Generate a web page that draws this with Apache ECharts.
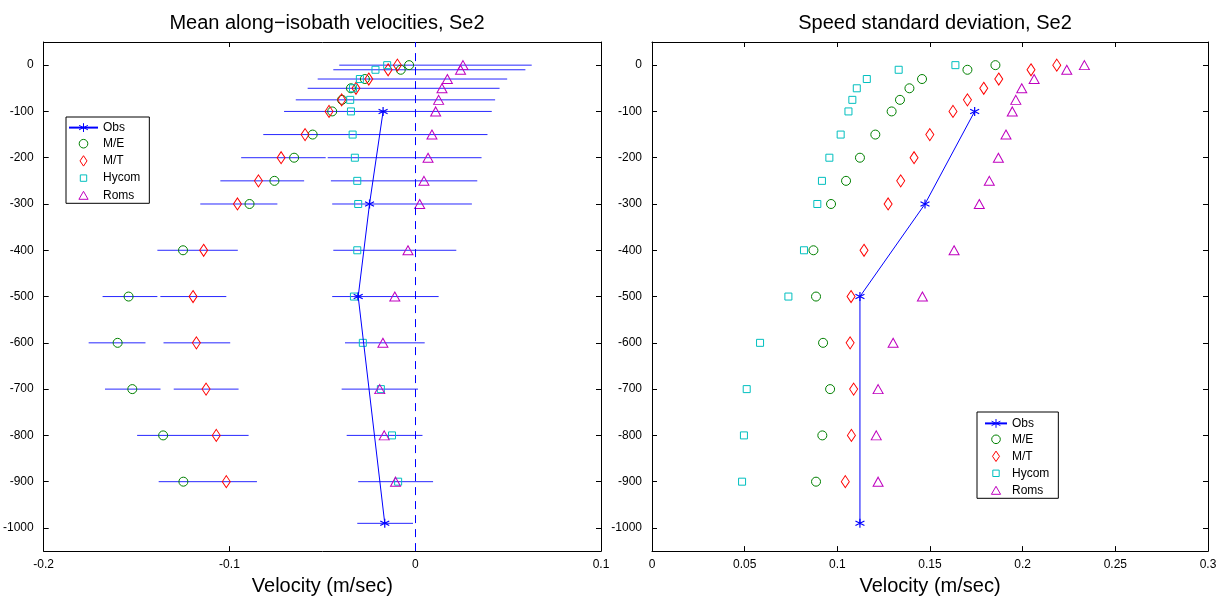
<!DOCTYPE html>
<html>
<head>
<meta charset="utf-8">
<script src="https://cdn.jsdelivr.net/npm/echarts@6/dist/echarts.min.js"></script>
<style>
html, body { margin: 0; padding: 0; background: #fff; }
#main { width: 1230px; height: 601px; }
</style>
</head>
<body>
<div id="main"></div>
<script>
// depths (m) of model levels and of the moorings
var depths = [0, -10, -30, -50, -75, -100, -150, -200, -250, -300, -400, -500, -600, -700, -800, -900];
var obsDepths = [-100, -300, -500, -990];
var yTicks = [0, -100, -200, -300, -400, -500, -600, -700, -800, -900, -1000];

// mean along-isobath velocity (m/s)
var meanObs = [-0.0173, -0.0246, -0.0307, -0.0164];
var meanME = [-0.0033, -0.0078, -0.0271, -0.0346, -0.0394, -0.0447, -0.0552, -0.0652, -0.0758, -0.0892, -0.1250, -0.1543, -0.1602, -0.1523, -0.1357, -0.1248];
var meanMT = [-0.0096, -0.0146, -0.0250, -0.0319, -0.0396, -0.0464, -0.0593, -0.0722, -0.0844, -0.0957, -0.1139, -0.1196, -0.1178, -0.1126, -0.1071, -0.1017];
var meanHycom = [-0.0151, -0.0214, -0.0298, -0.0335, -0.0350, -0.0346, -0.0337, -0.0325, -0.0312, -0.0307, -0.0312, -0.0330, -0.0282, -0.0185, -0.0125, -0.0092];
var meanRoms = [0.0257, 0.0244, 0.0173, 0.0144, 0.0126, 0.0110, 0.0090, 0.0069, 0.0047, 0.0024, -0.0039, -0.0110, -0.0174, -0.0191, -0.0167, -0.0106];

// spread bars around the means: [depth, low, high]
var spread = [
    [0, -0.0409, 0.0627],
    [-10, -0.0441, 0.0593],
    [-30, -0.0525, 0.0495],
    [-50, -0.0579, 0.0454],
    [-75, -0.0643, 0.0430],
    [-100, -0.0706, 0.0412],
    [-150, -0.0818, 0.0389],
    [-200, -0.0937, -0.0482], [-200, -0.0471, 0.0357],
    [-250, -0.1049, -0.0598], [-250, -0.0454, 0.0334],
    [-300, -0.1157, -0.0742], [-300, -0.0447, 0.0305],
    [-400, -0.1388, -0.0955], [-400, -0.0441, 0.0221],
    [-500, -0.1683, -0.1388], [-500, -0.1372, -0.1017], [-500, -0.0447, 0.0126],
    [-600, -0.1758, -0.1452], [-600, -0.1355, -0.0996], [-600, -0.0378, 0.0051],
    [-700, -0.1670, -0.1371], [-700, -0.1300, -0.0951], [-700, -0.0396, 0.0015],
    [-800, -0.1497, -0.0897], [-800, -0.0369, 0.0039],
    [-900, -0.1381, -0.0852], [-900, -0.0307, 0.0096],
    [-990, -0.0312, -0.0012]
];

// speed standard deviation (m/s)
var stdObs = [0.1741, 0.1473, 0.1122, 0.1122];
var stdME = [0.1853, 0.1702, 0.1457, 0.1389, 0.1338, 0.1293, 0.1205, 0.1122, 0.1047, 0.0966, 0.0871, 0.0885, 0.0923, 0.0961, 0.0919, 0.0885];
var stdMT = [0.2184, 0.2045, 0.1871, 0.1790, 0.1702, 0.1624, 0.1499, 0.1414, 0.1342, 0.1274, 0.1144, 0.1074, 0.1069, 0.1088, 0.1076, 0.1043];
var stdHycom = [0.1637, 0.1331, 0.1159, 0.1105, 0.1081, 0.1060, 0.1018, 0.0957, 0.0917, 0.0892, 0.0820, 0.0736, 0.0583, 0.0511, 0.0496, 0.0486];
var stdRoms = [0.2333, 0.2238, 0.2062, 0.1995, 0.1963, 0.1944, 0.1910, 0.1869, 0.1820, 0.1766, 0.1630, 0.1459, 0.1301, 0.1220, 0.1210, 0.1220];

var names = ['Obs', 'M/E', 'M/T', 'Hycom', 'Roms'];

var FONT = 'Liberation Sans';
var BLUE = '#0000ff', GREEN = '#008000', RED = '#ff0000', CYAN = '#00bfbf', MAGENTA = '#bf00bf';
var STAR = 'path://M0,-5L0,5M-4.3,-2.5L4.3,2.5M-4.3,2.5L4.3,-2.5';

// legend icons drawn inside an 11px tall box so they keep their own size
var ICONS = {
    'M/E': 'path://M0,-5.5M0,5.5M4.3,0A4.3,4.3 0 1,1 -4.3,0A4.3,4.3 0 1,1 4.3,0Z',
    'M/T': 'path://M0,-5.5M0,5.5M0,-5.2L3.5,0L0,5.2L-3.5,0Z',
    'Hycom': 'path://M0,-5.5M0,5.5M-3.2,-3.2L3.2,-3.2L3.2,3.2L-3.2,3.2Z',
    'Roms': 'path://M0,-5.5M0,5.5M0,-4L4.6,4L-4.6,4Z'
};

function pairs(xs, ys) {
    return xs.map(function (x, i) { return [x, ys[i]]; });
}

function xAx(grid, min, max, interval, top) {
    return {
        type: 'value', gridIndex: grid, min: min, max: max, interval: interval,
        position: top ? 'top' : 'bottom',
        axisLine: { show: true, onZero: false, lineStyle: { color: '#000', width: 1 } },
        axisTick: { show: true, inside: true, length: 5, lineStyle: { color: '#000' } },
        axisLabel: { show: !top, margin: 8, color: '#000', fontFamily: FONT, fontSize: 12 },
        splitLine: { show: false },
        name: top ? '' : 'Velocity (m/sec)',
        nameLocation: 'middle', nameGap: 21,
        nameTextStyle: { color: '#000', fontFamily: FONT, fontSize: 20 }
    };
}

function yAx(grid, right) {
    return {
        type: 'value', gridIndex: grid, min: -1050, max: 50,
        position: right ? 'right' : 'left',
        axisLine: { show: true, onZero: false, lineStyle: { color: '#000', width: 1 } },
        axisTick: { show: true, inside: true, length: 5, customValues: yTicks, lineStyle: { color: '#000' } },
        axisLabel: {
            show: !right, margin: 10, customValues: yTicks, color: '#000', fontFamily: FONT, fontSize: 12,
            formatter: function (v) { return String(v); }
        },
        splitLine: { show: false }
    };
}

function obsSeries(name, grid, xs) {
    return {
        name: name, type: 'line', xAxisIndex: grid * 2, yAxisIndex: grid * 2,
        data: pairs(xs, obsDepths),
        symbol: STAR, symbolSize: 9, showSymbol: true,
        lineStyle: { color: BLUE, width: 1 },
        itemStyle: { color: 'none', borderColor: BLUE, borderWidth: 1.2 },
        z: 4
    };
}

function modelSeries(name, grid, xs, symbol, size, color) {
    return {
        name: name, type: 'scatter', xAxisIndex: grid * 2, yAxisIndex: grid * 2,
        data: pairs(xs, depths),
        symbol: symbol, symbolSize: size,
        itemStyle: { color: 'none', borderColor: color, borderWidth: 1, opacity: 1 },
        z: 3
    };
}

function legend(left, top, iw, padding, gap) {
    return {
        data: names.map(function (n) {
            return ICONS[n] ? { name: n, icon: ICONS[n] } : { name: n };
        }),
        orient: 'vertical', left: left, top: top,
        selectedMode: false,
        backgroundColor: '#fff', borderColor: '#000', borderWidth: 1,
        padding: padding, itemGap: gap, itemWidth: iw, itemHeight: 11,
        symbolKeepAspect: true,
        itemStyle: { borderWidth: 1 },
        textStyle: { color: '#000', fontFamily: FONT, fontSize: 12 }
    };
}

var dom = document.getElementById('main');
var myChart = echarts.init(dom);
var option = {
    animation: false,
    backgroundColor: '#fff',
    title: [
        { text: 'Mean along\u2212isobath velocities, Se2', left: 322, top: 8, textAlign: 'center',
          textStyle: { color: '#000', fontFamily: FONT, fontSize: 20, fontWeight: 'normal' } },
        { text: 'Speed standard deviation, Se2', left: 930, top: 8, textAlign: 'center',
          textStyle: { color: '#000', fontFamily: FONT, fontSize: 20, fontWeight: 'normal' } }
    ],
    legend: [
        legend(66, 117, 29, [3.7, 9, 0, 2], 1.2),
        legend(977, 412, 22, [4.5, 9, 0, 7], 1)
    ],
    grid: [
        { left: 43, top: 42, width: 558, height: 511 },
        { left: 652, top: 42, width: 556, height: 511 }
    ],
    xAxis: [
        xAx(0, -0.2, 0.1, 0.1, false), xAx(0, -0.2, 0.1, 0.1, true),
        xAx(1, 0, 0.3, 0.05, false), xAx(1, 0, 0.3, 0.05, true)
    ],
    yAxis: [yAx(0, false), yAx(0, true), yAx(1, false), yAx(1, true)],
    series: [
        {
            name: 'spread', type: 'custom', xAxisIndex: 0, yAxisIndex: 0,
            data: spread,
            encode: { x: [1, 2], y: 0 },
            renderItem: function (params, api) {
                var a = api.coord([api.value(1), api.value(0)]);
                var b = api.coord([api.value(2), api.value(0)]);
                return {
                    type: 'line',
                    shape: { x1: a[0], y1: a[1], x2: b[0], y2: b[1] },
                    style: { stroke: BLUE, lineWidth: 1, opacity: 0.85 }
                };
            },
            z: 2
        },
        {
            name: 'zero', type: 'line', xAxisIndex: 0, yAxisIndex: 0,
            data: [],
            markLine: {
                silent: true, symbol: 'none',
                label: { show: false },
                lineStyle: { color: BLUE, width: 1, type: [8, 6], opacity: 1 },
                data: [{ xAxis: 0 }]
            },
            z: 2
        },
        obsSeries('Obs', 0, meanObs),
        modelSeries('M/E', 0, meanME, 'circle', 9, GREEN),
        modelSeries('M/T', 0, meanMT, 'diamond', [8, 12], RED),
        modelSeries('Hycom', 0, meanHycom, 'rect', 7, CYAN),
        modelSeries('Roms', 0, meanRoms, 'triangle', [10, 9], MAGENTA),
        obsSeries('Obs', 1, stdObs),
        modelSeries('M/E', 1, stdME, 'circle', 9, GREEN),
        modelSeries('M/T', 1, stdMT, 'diamond', [8, 12], RED),
        modelSeries('Hycom', 1, stdHycom, 'rect', 7, CYAN),
        modelSeries('Roms', 1, stdRoms, 'triangle', [10, 9], MAGENTA)
    ]
};
if (option && typeof option === "object") {
    myChart.setOption(option, true);
}
</script>
</body>
</html>
